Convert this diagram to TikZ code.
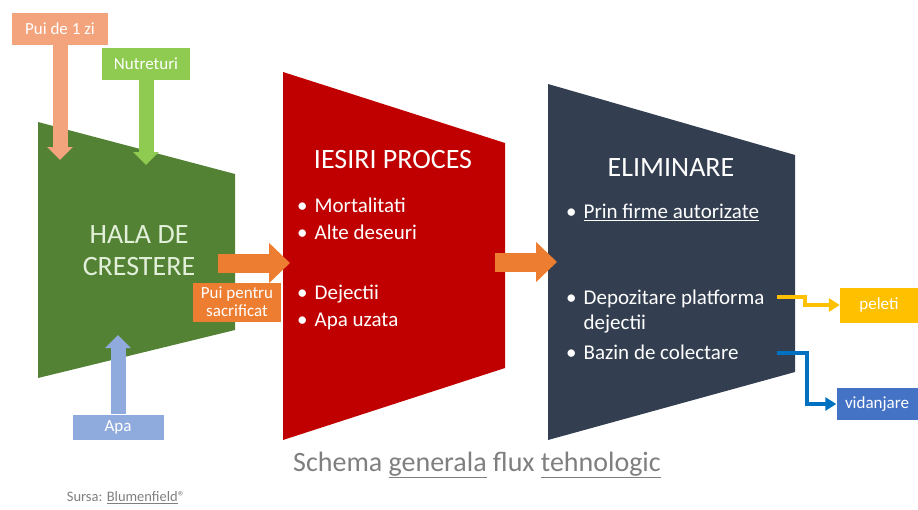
\documentclass[tikz,border=0pt]{standalone}
\usepackage{fontspec}
\setmainfont{Carlito}
\usepackage{tikz}
\usetikzlibrary{shapes,arrows,arrows.meta}
\definecolor{halagreen}{HTML}{548235}
\definecolor{procred}{HTML}{C00000}
\definecolor{elimnavy}{HTML}{333F50}
\definecolor{puiorange}{HTML}{F4A47C}
\definecolor{nutrgreen}{HTML}{8FCB50}
\definecolor{apablue}{HTML}{8FAADC}
\definecolor{flowor}{HTML}{ED7D31}
\definecolor{peletiyel}{HTML}{FFC000}
\definecolor{vidblue}{HTML}{4472C4}
\definecolor{pipeblue}{HTML}{0070C0}
\definecolor{notegrey}{HTML}{7F7F7F}
\definecolor{halatext}{HTML}{E2F0D9}
\tikzstyle{tag} = [rectangle, text=white, inner sep=0pt,
    font=\fontsize{17}{18}\selectfont]
\tikzstyle{title} = [text=white, align=center, font=\fontsize{28}{32}\selectfont]
\tikzstyle{items} = [text=white, anchor=west, align=left, inner sep=0pt,
    font=\fontsize{21}{27}\selectfont]
\tikzstyle{feed} = [line width=15pt, -{Triangle[width=25pt,length=13pt]}]
\tikzstyle{flow} = [line width=19pt, flowor, -{Triangle[width=39pt,length=21pt]}]
\tikzstyle{pipe} = [line width=3.5pt, -{Triangle[width=13pt,length=11pt]}]

\begin{document}
\begin{tikzpicture}[x=1pt, y=-1pt, >=latex']
    \useasboundingbox (0,0) rectangle (918,509);

    % We start by drawing the three stages
    \fill[halagreen] (38,122) -- (235,174) -- (235,330) -- (38,378) -- cycle;
    \fill[procred] (283,72) -- (505,143) -- (505,368) -- (283,440) -- cycle;
    \fill[elimnavy] (548,84) -- (795,155) -- (795,372) -- (548,440) -- cycle;

    % Texts on the stages
    \node [title, text=halatext] (hala) at (139,251) {HALA DE\\CRESTERE};
    \node [title] (iesiri) at (393,160) {IESIRI PROCES};
    \node [items] (mortalitati) at (297,219)
        {\textbullet\hspace{7pt}Mortalitati\\\textbullet\hspace{7pt}Alte deseuri};
    \node [items] (dejectii) at (297,307)
        {\textbullet\hspace{7pt}Dejectii\\\textbullet\hspace{7pt}Apa uzata};
    \node [title] (elim) at (671,168) {ELIMINARE};
    \node [items] (firme) at (566,212)
        {\textbullet\hspace{7pt}\underline{Prin firme autorizate}};
    \node [items, font=\fontsize{21}{25}\selectfont] (depozitare) at (566,325)
        {\textbullet\hspace{7pt}Depozitare platforma\\
         \hphantom{\textbullet\hspace{7pt}}dejectii\\[5pt]
         \textbullet\hspace{7pt}Bazin de colectare};

    % The inputs, with the points where their arrows end
    \node [tag, fill=puiorange, minimum width=96pt, minimum height=32pt] (pui) at (60,29) {Pui de 1 zi};
    \node [tag, fill=nutrgreen, minimum width=88pt, minimum height=32pt] (nutreturi) at (146,64) {Nutreturi};
    \node [tag, fill=apablue, minimum width=91pt, minimum height=25pt] (apa) at (118,427) {Apa};
    \coordinate (puitip) at (60,160);
    \coordinate (nutrtip) at (146,165);
    \coordinate (apatip) at (118,335);
    \draw [feed, puiorange] (pui.south) -- (puitip);
    \draw [feed, nutrgreen] (nutreturi.south) -- (nutrtip);
    \draw [feed, apablue] (apa.north) -- (apatip);

    % The flow from one stage to the next
    \coordinate (halaout) at (218,263);
    \coordinate (iesiriin) at (290,263);
    \coordinate (iesiriout) at (495,262);
    \coordinate (elimin) at (557,262);
    \draw [flow] (halaout) -- (iesiriin);
    \node [tag, fill=flowor, align=center, minimum width=88pt, minimum height=39pt]
        (sacrificat) at (237,302) {Pui pentru\\sacrificat};
    \draw [flow] (iesiriout) -- (elimin);

    % The outputs of the last stage
    \node [tag, fill=peletiyel, minimum width=78pt, minimum height=35pt] (peleti) at (879,305) {peleti};
    \node [tag, fill=vidblue, minimum width=81pt, minimum height=32pt] (vidanjare) at (877,404) {vidanjare};
    \coordinate (depoend) at (777,297);
    \coordinate (bazinend) at (777,353);
    \draw [pipe, peletiyel] (depoend) -- ++(28,0) |- (peleti);
    \draw [pipe, pipeblue] (bazinend) -- ++(30,0) |- (vidanjare);

    % Caption and source
    \node [text=notegrey, font=\fontsize{28}{30}\selectfont] (schema) at (477,465)
        {Schema \underline{generala} flux \underline{tehnologic}};
    \node [text=notegrey, font=\fontsize{14.5}{16}\selectfont] (sursa) at (126,498)
        {Sursa: \underline{Blumenfield}®};

\end{tikzpicture}
\end{document}
